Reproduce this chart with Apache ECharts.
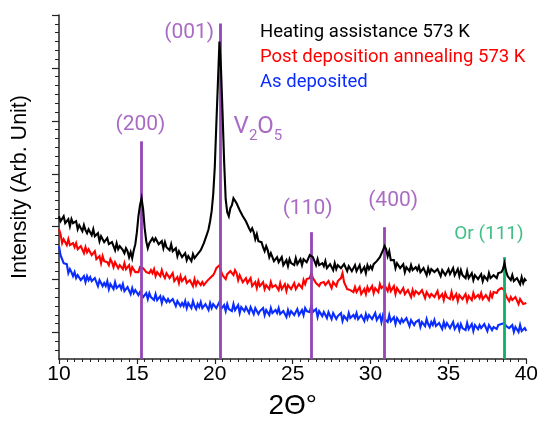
<!DOCTYPE html>
<html><head><meta charset="utf-8">
<script src="https://cdn.jsdelivr.net/npm/echarts@6/dist/echarts.min.js"></script>
<style>html,body{margin:0;padding:0;background:#fff}#c{width:541px;height:425px}</style>
</head><body><div id="c"></div>
<script>
// 2-theta sampling grid: 10.0 .. 40.0 step 0.1
const thetaStart = 10, thetaStep = 0.1;

const heating = [
143,138,140,143,136,137,140,133,140,136,
134,138,130,134,134,128,134,129,126,130,
129,124,130,123,123,126,118,123,121,117,
117,121,115,113,117,115,109,116,110,113,
113,109,106,111,108,102,107,101,109,115,
127,143,154,161,150,131,118,111,116,114,
121,118,121,123,115,116,118,111,117,112,
114,109,115,108,108,111,103,108,106,102,
102,106,99,103,104,98,105,101,99,105,
104,109,110,116,117,125,130,138,148,165,
192,235,276,318,290,246,198,160,147,143,
151,154,161,163,156,154,149,147,143,142,
138,140,131,128,131,127,120,125,118,120,
117,112,108,113,109,102,106,106,98,100,
102,97,99,102,94,96,99,93,100,96,
98,94,101,95,96,100,94,100,100,97,
98,104,104,102,101,94,100,94,92,96,
93,98,91,90,95,94,89,96,90,94,
94,91,89,95,93,88,93,94,88,91,
94,88,91,94,87,89,92,86,94,90,
93,90,95,94,98,97,102,103,109,113,
110,103,108,99,98,99,91,96,94,91,
90,95,87,92,93,88,94,89,87,92,
89,93,87,86,91,89,84,91,86,90,
90,87,85,90,88,83,89,90,84,87,
90,85,88,91,84,87,90,83,89,84,
85,81,88,81,82,86,79,84,83,80,
80,85,78,83,84,79,86,81,79,84,
85,81,86,84,87,90,96,88,83,83,
79,84,78,77,81,80,75,82,76,80,
78];

const annealed = [
130,125,116,120,120,114,120,114,112,116,
112,116,110,108,113,111,106,112,107,110,
110,104,106,108,100,101,103,96,103,98,
100,97,94,100,97,92,97,98,91,94,
94,90,96,90,90,94,86,92,90,87,
89,87,92,94,91,92,87,89,86,89,
86,90,83,87,88,83,89,84,81,86,
86,81,83,86,78,80,82,76,83,78,
78,82,76,75,79,78,73,80,74,78,
77,74,77,74,75,78,76,81,82,84,
87,91,91,94,88,84,83,80,85,84,
88,86,84,89,86,79,84,84,77,79,
81,76,78,81,73,75,77,71,78,73,
72,77,70,74,75,70,77,72,70,74,
73,69,76,70,71,75,68,74,73,70,
71,76,70,70,75,75,71,79,75,80,
80,81,86,81,80,76,77,73,76,74,
77,74,72,78,76,71,77,78,73,78,
77,81,86,77,75,70,72,69,71,67,
72,67,69,72,65,67,70,65,72,68,
68,73,66,71,72,67,75,71,70,74,
72,68,74,68,69,73,65,71,69,66,
67,71,65,64,69,68,62,69,64,68,
68,65,63,69,67,61,67,68,62,65,
67,62,65,68,61,62,65,59,66,62,
64,60,67,60,61,65,58,64,63,60,
60,65,58,63,64,59,66,61,59,64,
61,66,60,59,64,63,59,66,62,67,
67,66,69,70,71,73,69,63,62,58,
62,59,57,62,60,55,60,61,55,57,
56];

const asDeposited = [
113,104,106,96,94,95,86,90,87,83,
87,81,84,86,79,80,83,77,83,79,
82,78,76,81,79,73,79,80,73,76,
73,78,70,75,76,70,77,71,69,74,
70,75,68,67,72,70,65,71,66,69,
70,64,67,69,62,64,66,60,66,62,
63,59,65,59,60,63,56,62,60,57,
60,57,55,60,58,53,58,59,53,56,
53,58,51,56,56,51,58,53,50,55,
52,57,51,50,55,54,49,56,51,55,
56,51,54,57,50,51,54,48,55,50,
52,48,55,49,50,54,46,52,51,48,
52,49,46,52,50,45,51,51,45,48,
46,51,44,49,50,44,51,46,44,49,
46,51,45,43,48,47,42,49,44,48,
49,44,47,50,44,46,49,44,51,48,
50,47,54,47,47,50,42,48,46,43,
47,44,41,47,45,40,46,46,40,43,
41,46,38,43,44,39,46,41,39,44,
41,46,40,39,44,43,38,45,40,44,
45,40,43,46,39,41,44,37,44,40,
42,37,44,38,39,42,35,41,40,36,
40,37,35,41,39,33,39,40,34,37,
35,39,32,37,38,33,40,35,32,37,
34,39,33,32,36,35,30,37,32,36,
37,31,34,37,30,32,35,29,35,31,
33,29,36,30,31,35,28,34,33,30,
34,31,29,35,33,28,34,35,29,32,
33,30,34,32,35,34,36,33,34,31,
30,34,27,32,32,27,34,28,26,31,
28];

const seriesNames = ['Heating assistance 573 K', 'Post deposition annealing 573 K', 'As deposited'];
const seriesColors = ['#000000', '#ff0000', '#0a2cff'];

// reference lines (2θ position, line top intensity)
const peakPositions = [15.3, 20.32, 26.2, 30.9, 38.6];
const peakTops = [218, 336, 127, 132, 102];
const peakColors = ['#9446b4', '#9446b4', '#9446b4', '#9446b4', '#0fae68'];

// annotation texts and anchor points (2θ, intensity)
const noteTexts = ['(200)', '(001)', '{m|V}{s|2}{m|O}{s|5}', '(110)', '(400)', 'Or (111)'];
const noteX = [15.23, 18.36, 22.77, 25.96, 31.45, 37.6];
const noteY = [235, 327, 230, 150, 158, 125];
const noteColors = ['#9446b4', '#9446b4', '#9446b4', '#9446b4', '#9446b4', '#0fae68'];
const noteSizes = [21, 21, 24, 21, 21, 19];

const xTickInterval = 5;
const yMajorStep = 53, yFirstMajor = 26.5, yMax = 344.5;

const toPairs = arr => arr.map((v, i) => [+(thetaStart + i * thetaStep).toFixed(1), v]);
const majorTicks = [], minorTicks = [];
for (let k = 0; yFirstMajor + k * yMajorStep <= yMax + 0.01; k++) majorTicks.push(yFirstMajor + k * yMajorStep);
for (let k = -3; ; k++) {
  const v = yFirstMajor + k * yMajorStep / 6;
  if (v > yMax + 0.01) break;
  if (v > 0.5 && k % 6 !== 0) minorTicks.push(v);
}

const axisColor = '#222';
const chart = echarts.init(document.getElementById('c'), null, {renderer: 'canvas'});
const lineSeries = [heating, annealed, asDeposited].map((d, i) => ({
  name: seriesNames[i], type: 'line', data: toPairs(d), showSymbol: false, symbol: 'none',
  sampling: null, lineStyle: {color: seriesColors[i], width: 2.1, join: 'miter'}, itemStyle: {color: seriesColors[i]},
  z: 5 - i, animation: false
}));

chart.setOption({
  animation: false,
  grid: {left: 59, right: 12, top: 15, bottom: 65},
  legend: {
    orient: 'vertical', left: 250, top: 18, itemWidth: 0, itemHeight: 0, itemGap: 6,
    selectedMode: false, icon: 'rect',
    textStyle: {fontFamily: 'Roboto', fontSize: 18.5},
    data: seriesNames.map((n, i) => ({name: n, textStyle: {color: seriesColors[i]}}))
  },
  xAxis: {
    type: 'value', min: 10, max: 40, interval: xTickInterval,
    axisLine: {lineStyle: {color: axisColor, width: 1.5}},
    axisTick: {length: 5, lineStyle: {color: axisColor, width: 1.2}},
    minorTick: {show: true, splitNumber: 10, length: 3, lineStyle: {color: axisColor, width: 1}},
    splitLine: {show: false},
    axisLabel: {fontFamily: 'Liberation Sans', fontSize: 21, color: '#000', margin: 5},
    name: '2Θ°', nameLocation: 'middle', nameGap: 33,
    nameTextStyle: {fontFamily: 'Liberation Sans', fontSize: 28, color: '#000'}
  },
  yAxis: [{
    type: 'value', min: 0, max: yMax,
    axisLine: {show: true, lineStyle: {color: axisColor, width: 1.5}},
    axisTick: {show: true, customValues: majorTicks, length: 7, lineStyle: {color: axisColor, width: 1.2}},
    axisLabel: {show: false}, splitLine: {show: false},
    name: 'Intensity (Arb. Unit)', nameLocation: 'middle', nameGap: 28,
    nameTextStyle: {fontFamily: 'Liberation Sans', fontSize: 21.5, color: '#000'}
  }, {
    type: 'value', min: 0, max: yMax, position: 'left',
    axisLine: {show: false},
    axisTick: {show: true, customValues: minorTicks, length: 4, lineStyle: {color: axisColor, width: 1}},
    axisLabel: {show: false}, splitLine: {show: false}
  }],
  series: [...lineSeries, {
    name: 'annotations', type: 'scatter', symbolSize: 0, z: 10, silent: true,
    data: noteTexts.map((t, i) => ({
      value: [noteX[i], noteY[i]],
      label: {show: true, position: 'inside', formatter: t, color: noteColors[i], fontSize: noteSizes[i], fontFamily: 'Roboto',
        rich: {m: {fontSize: 24, color: noteColors[i], fontFamily: 'Roboto', lineHeight: 29, verticalAlign: 'top'},
               s: {fontSize: 15, color: noteColors[i], fontFamily: 'Roboto', lineHeight: 29, verticalAlign: 'bottom'}}}
    })),
    markLine: {
      silent: true, symbol: 'none', animation: false, label: {show: false},
      data: peakPositions.map((x, i) => [
        {coord: [x, 0], lineStyle: {color: peakColors[i], width: 2.8, type: 'solid'}},
        {coord: [x, peakTops[i]]}
      ])
    }
  }]
});
</script></body></html>
